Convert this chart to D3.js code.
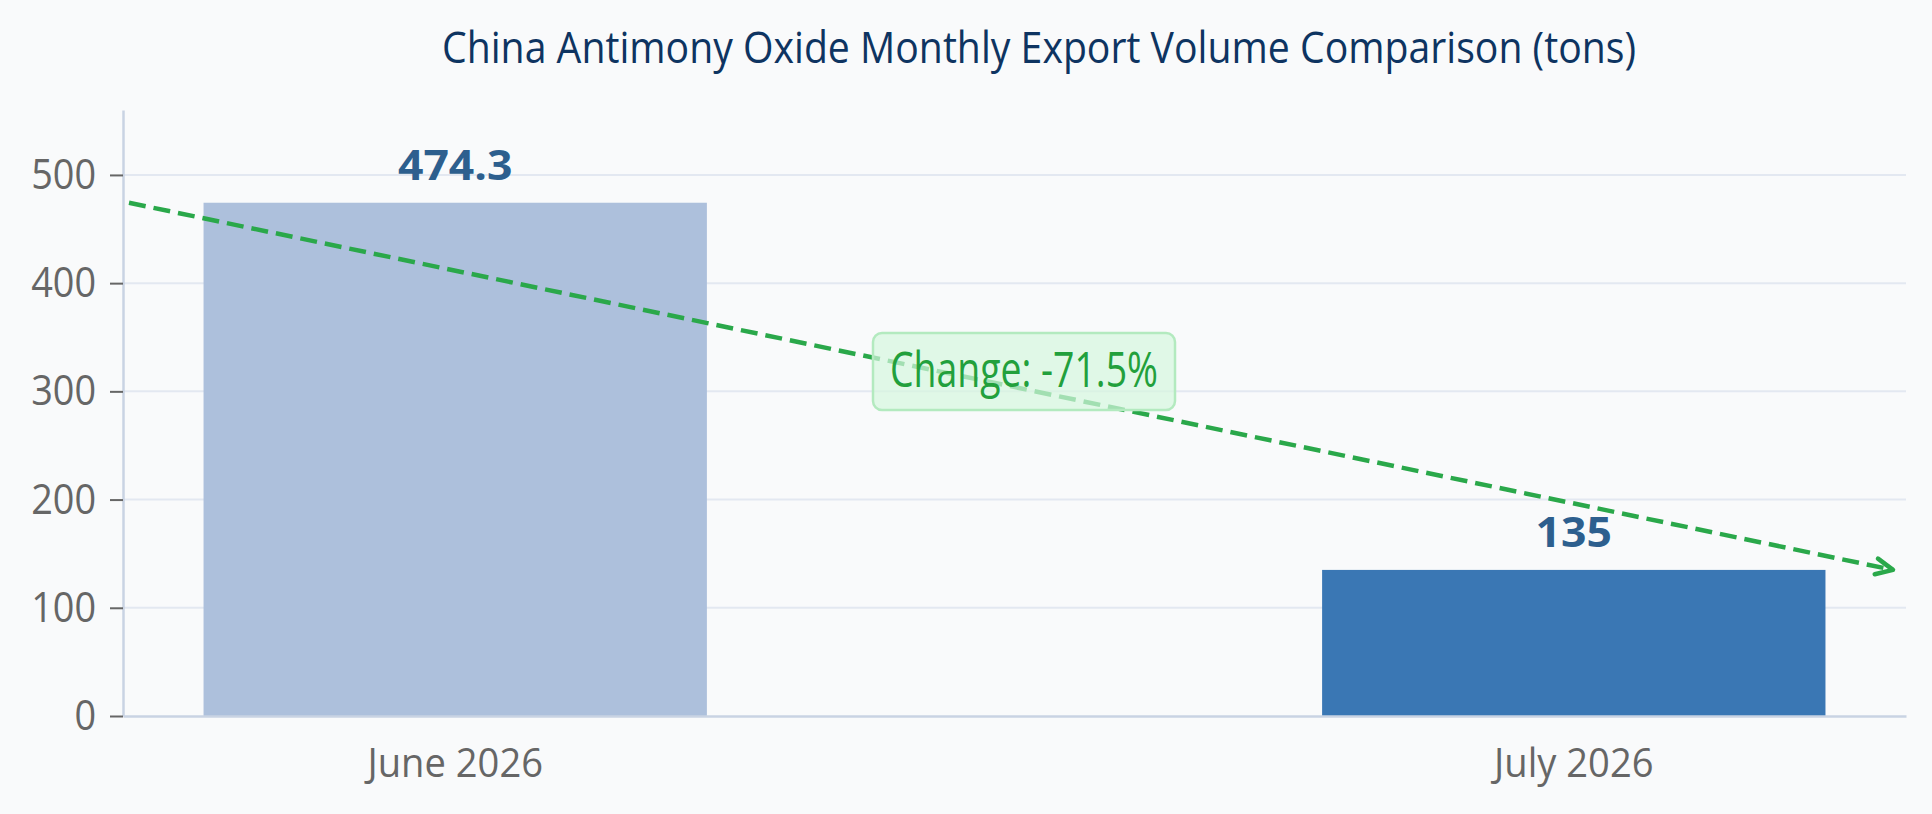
<!DOCTYPE html>
<html>
<head>
<meta charset="utf-8">
<script src="https://cdn.jsdelivr.net/npm/d3@7"></script>
<style>
  html, body { margin: 0; padding: 0; background: #f9fafb; }
  text { font-family: "Open Sans", "Noto Sans", sans-serif; }
</style>
</head>
<body>
<div id="chart-area"></div>
<script>
// data
var months = ['June 2026', 'July 2026'];
var exports = [474.3, 135];
var yTicks = [0, 100, 200, 300, 400, 500];
var yMax = 560;
var title = 'China Antimony Oxide Monthly Export Volume Comparison (tons)';

var svgWidth = 1932;
var svgHeight = 814;
var margin = {left: 123, right: 26, top: 110, bottom: 98};
var width = svgWidth - margin.left - margin.right;
var height = svgHeight - margin.top - margin.bottom;

var barColors = ['#adc0dc', '#3a77b4'];
var green = '#2aa84a';

// squeeze text horizontally (reference font is narrower than ours)
function squeeze(sel, k) {
    sel.each(function() {
        var w = this.getComputedTextLength();
        d3.select(this)
            .attr('textLength', w * k)
            .attr('lengthAdjust', 'spacingAndGlyphs');
    });
}

var svg = d3.select('#chart-area')
    .append('svg')
    .attr('width', svgWidth)
    .attr('height', svgHeight);

svg.append('rect')
    .attr('width', svgWidth)
    .attr('height', svgHeight)
    .attr('fill', '#f9fafb');

// title
svg.append('text')
    .attr('x', 1039)
    .attr('y', 63)
    .attr('text-anchor', 'middle')
    .attr('font-size', 44)
    .attr('fill', '#0e3461')
    .attr('textLength', 1194)
    .attr('lengthAdjust', 'spacingAndGlyphs')
    .text(title);

var g = svg.append('g')
    .attr('transform', 'translate(' + margin.left + ',' + margin.top + ')');

var x = d3.scaleBand()
    .domain(months)
    .range([0, width])
    .paddingInner(0.55)
    .paddingOuter(0.072);

var y = d3.scaleLinear()
    .domain([0, yMax])
    .range([height, 0]);

// grid
g.append('g')
    .selectAll('line')
    .data(yTicks.filter(function(d) { return d > 0; }))
    .enter()
    .append('line')
    .attr('x1', 0)
    .attr('x2', width)
    .attr('y1', function(d) { return y(d); })
    .attr('y2', function(d) { return y(d); })
    .attr('stroke', '#e3e8f1')
    .attr('stroke-width', 2);

// bars
g.selectAll('rect.bar')
    .data(exports)
    .enter()
    .append('rect')
    .attr('class', 'bar')
    .attr('x', function(d, i) { return x(months[i]); })
    .attr('y', function(d) { return y(d); })
    .attr('width', x.bandwidth())
    .attr('height', function(d) { return height - y(d); })
    .attr('fill', function(d, i) { return barColors[i]; });

// value labels
var vals = g.selectAll('text.val')
    .data(exports)
    .enter()
    .append('text')
    .attr('class', 'val')
    .attr('x', function(d, i) { return x(months[i]) + x.bandwidth() / 2; })
    .attr('y', function(d) { return y(d) - 23; })
    .attr('text-anchor', 'middle')
    .attr('font-size', 42)
    .attr('font-weight', 'bold')
    .attr('fill', '#2d5f8e')
    .text(function(d) { return d; });
squeeze(vals, 1.06);

// Y axis
var yAxis = d3.axisLeft(y)
    .tickValues(yTicks)
    .tickSizeInner(13)
    .tickSizeOuter(0)
    .tickPadding(14);

var yg = g.append('g').call(yAxis);
yg.select('.domain')
    .attr('stroke', '#c9d3e3')
    .attr('stroke-width', 2.5);
yg.selectAll('.tick line')
    .attr('stroke', '#666')
    .attr('stroke-width', 2);
var yText = yg.selectAll('.tick text')
    .attr('font-size', 42)
    .attr('fill', '#666')
    .attr('font-family', '"Open Sans", sans-serif');
squeeze(yText, 0.9);

// X axis
var xAxis = d3.axisBottom(x)
    .tickSize(0)
    .tickPadding(0);

var xg = g.append('g')
    .attr('transform', 'translate(0,' + height + ')')
    .call(xAxis);
xg.select('.domain')
    .attr('stroke', '#c9d3e3')
    .attr('stroke-width', 2.5);
var xText = xg.selectAll('.tick text')
    .attr('y', 61)
    .attr('dy', null)
    .attr('font-size', 41)
    .attr('fill', '#666')
    .attr('font-family', '"Open Sans", sans-serif');
squeeze(xText, 0.93);

// trend arrow from June value to July value
svg.append('defs')
    .append('marker')
    .attr('id', 'arrow')
    .attr('markerUnits', 'userSpaceOnUse')
    .attr('viewBox', '-22 -13 26 26')
    .attr('markerWidth', 26)
    .attr('markerHeight', 26)
    .attr('refX', 0)
    .attr('refY', 0)
    .attr('orient', 'auto')
    .append('path')
    .attr('d', 'M-17,-8L0,0L-17,8')
    .attr('fill', 'none')
    .attr('stroke', green)
    .attr('stroke-width', 4.5)
    .attr('stroke-linecap', 'round')
    .attr('stroke-linejoin', 'round');

var tx0 = 6;
var tx1 = width - 13;
var ty0 = y(exports[0]);
var ty1 = y(exports[1]);

g.append('line')
    .attr('x1', tx0)
    .attr('y1', ty0)
    .attr('x2', tx1)
    .attr('y2', ty1)
    .attr('stroke', green)
    .attr('stroke-width', 4.5)
    .attr('stroke-dasharray', '17,8')
    .attr('marker-end', 'url(#arrow)');

// change label
var change = (exports[1] - exports[0]) / exports[0];
var lx = (tx0 + tx1) / 2 + 13;
var ly = ty0 + (ty1 - ty0) * (lx - tx0) / (tx1 - tx0);

g.append('rect')
    .attr('x', lx - 151)
    .attr('y', ly - 56)
    .attr('width', 302)
    .attr('height', 77)
    .attr('rx', 9)
    .attr('fill', 'rgba(214, 247, 222, 0.7)')
    .attr('stroke', '#b3eabf')
    .attr('stroke-width', 2.5);

g.append('text')
    .attr('x', lx)
    .attr('y', ly - 2)
    .attr('text-anchor', 'middle')
    .attr('font-size', 49)
    .attr('font-weight', 500)
    .attr('fill', '#22a03c')
    .attr('textLength', 268)
    .attr('lengthAdjust', 'spacingAndGlyphs')
    .text('Change: ' + (change * 100).toFixed(1) + '%');
</script>
</body>
</html>
